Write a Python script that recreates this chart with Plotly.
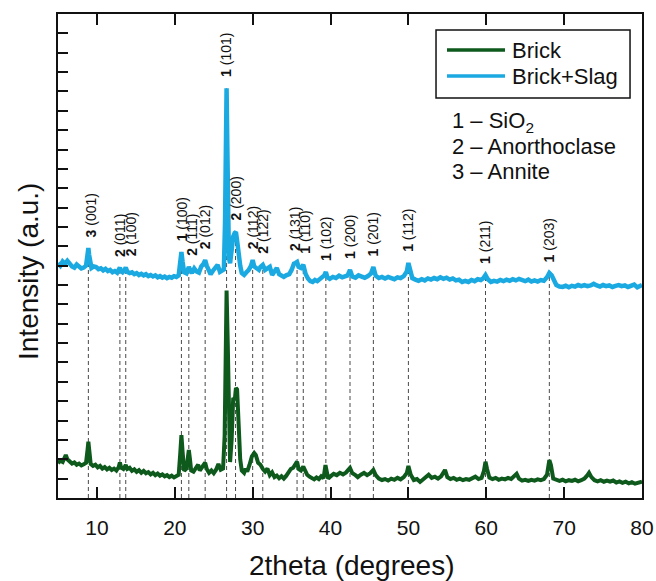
import numpy as np
import plotly.graph_objects as go

# XRD pattern of the plain brick (2theta in degrees, intensity in a.u.)
two_theta_brick = [
    5.0, 5.3, 5.6, 5.8, 6.0, 6.2, 6.5, 6.8, 7.1, 7.4, 7.7, 8.0, 8.3, 8.6, 8.8, 8.9, 9.0, 9.2, 9.5, 9.8,
    10.1, 10.4, 10.7, 11.0, 11.3, 11.6, 11.9, 12.2, 12.5, 12.8, 12.95, 13.1, 13.4, 13.7, 13.9, 14.2, 14.5,
    14.8, 15.1, 15.4, 15.7, 16.0, 16.3, 16.6, 16.9, 17.2, 17.5, 17.8, 18.1, 18.4, 18.7, 19.0, 19.3, 19.6,
    19.9, 20.2, 20.5, 20.7, 20.85, 21.0, 21.2, 21.5, 21.8, 21.95, 22.1, 22.4, 22.7, 23.0, 23.2, 23.5, 23.9,
    24.1, 24.4, 24.7, 25.0, 25.3, 25.6, 25.9, 26.2, 26.4, 26.55, 26.65, 26.8, 26.95, 27.1, 27.3, 27.5,
    27.7, 27.85, 28.0, 28.2, 28.4, 28.6, 28.9, 29.1, 29.3, 29.6, 29.9, 30.2, 30.4, 30.7, 31.0, 31.3, 31.6,
    31.9, 32.2, 32.5, 32.8, 33.1, 33.4, 33.7, 34.0, 34.3, 34.6, 34.9, 35.2, 35.5, 35.7, 35.9, 36.2, 36.5,
    36.7, 37.0, 37.3, 37.6, 37.9, 38.2, 38.5, 38.8, 39.1, 39.35, 39.5, 39.7, 40.0, 40.4, 40.8, 41.2, 41.6,
    42.0, 42.5, 42.8, 43.2, 43.5, 43.9, 44.3, 44.7, 45.1, 45.5, 45.8, 46.2, 46.6, 47.0, 47.4, 47.8, 48.2,
    48.6, 49.0, 49.4, 49.8, 50.0, 50.3, 50.7, 51.1, 51.5, 51.9, 52.3, 52.6, 53.0, 53.4, 53.8, 54.2, 54.7,
    55.0, 55.4, 55.8, 56.2, 56.6, 57.0, 57.4, 57.8, 58.2, 58.6, 59.0, 59.4, 59.7, 59.9, 60.1, 60.4, 60.8,
    61.2, 61.6, 62.0, 62.4, 62.8, 63.2, 63.6, 63.9, 64.2, 64.6, 65.0, 65.4, 65.8, 66.2, 66.6, 67.0, 67.4,
    67.8, 68.1, 68.3, 68.6, 69.0, 69.4, 69.8, 70.2, 70.6, 71.0, 71.4, 71.8, 72.2, 72.6, 73.0, 73.2, 73.5,
    73.9, 74.3, 74.7, 75.1, 75.5, 75.9, 76.3, 76.7, 77.1, 77.5, 77.9, 78.3, 78.7, 79.1, 79.5, 80.0,
]
intensity_brick = [
    180, 192, 186, 205, 222, 200, 188, 178, 184, 172, 178, 168, 174, 182, 250, 291, 252, 176, 166, 172,
    158, 166, 152, 160, 148, 156, 145, 152, 142, 160, 184, 158, 150, 170, 150, 156, 140,
    148, 135, 144, 130, 140, 128, 134, 122, 130, 118, 126, 115, 122, 112, 118, 108, 115,
    106, 112, 120, 230, 325, 240, 140, 152, 248, 200, 142, 136, 152, 172, 142, 158, 182,
    150, 130, 142, 128, 146, 176, 146, 152, 320, 900, 1071, 800, 320, 186, 300, 517,
    505, 568, 560, 350, 200, 142, 130, 152, 136, 172, 215, 232, 222, 182, 172, 150, 136,
    152, 118, 132, 108, 116, 102, 112, 100, 114, 132, 150, 156, 176, 188, 150, 142, 162,
    140, 120, 110, 100, 96, 106, 98, 112, 102, 170, 130, 100, 112, 125, 118, 130, 122,
    132, 155, 128, 118, 108, 120, 130, 118, 128, 145, 118, 100, 93, 98, 90, 100, 94,
    104, 96, 108, 130, 165, 120, 93, 98, 83, 96, 112, 120, 104, 110, 100, 112, 145,
    108, 98, 104, 94, 100, 92, 98, 94, 102, 110, 98, 104, 140, 187, 150, 105, 98,
    104, 94, 100, 96, 104, 98, 112, 125, 100, 90, 94, 88, 94, 90, 96, 92, 98,
    120, 196, 170, 100, 92, 88, 94, 86, 92, 88, 94, 86, 92, 100, 118, 130, 108,
    92, 86, 92, 84, 90, 84, 90, 80, 86, 78, 84, 76, 82, 74, 80, 85,
]

# XRD pattern of the brick with slag
two_theta_slag = [
    5.0, 5.3, 5.6, 5.9, 6.2, 6.5, 6.8, 7.1, 7.4, 7.7, 8.0, 8.3, 8.6, 8.8, 8.9, 9.0, 9.3, 9.6, 9.9, 10.2,
    10.5, 10.8, 11.1, 11.4, 11.7, 12.0, 12.3, 12.6, 12.8, 12.95, 13.1, 13.3, 13.5, 13.7, 13.9, 14.2, 14.5,
    14.8, 15.1, 15.4, 15.7, 16.0, 16.3, 16.6, 16.9, 17.2, 17.5, 17.8, 18.1, 18.4, 18.7, 19.0, 19.3, 19.6,
    19.9, 20.2, 20.5, 20.7, 20.85, 21.0, 21.2, 21.5, 21.8, 22.0, 22.2, 22.5, 22.8, 23.1, 23.4, 23.7, 23.9,
    24.1, 24.3, 24.6, 24.9, 25.2, 25.5, 25.8, 26.1, 26.3, 26.45, 26.55, 26.65, 26.75, 26.85, 26.95, 27.1,
    27.3, 27.5, 27.7, 27.85, 28.0, 28.2, 28.4, 28.6, 28.9, 29.2, 29.5, 29.8, 30.0, 30.2, 30.5, 30.8, 31.0,
    31.3, 31.6, 31.9, 32.2, 32.5, 32.8, 33.1, 33.4, 33.7, 34.0, 34.3, 34.7, 35.0, 35.3, 35.5, 35.7, 35.9,
    36.2, 36.5, 36.8, 37.1, 37.4, 37.7, 38.0, 38.3, 38.6, 38.9, 39.2, 39.4, 39.6, 39.9, 40.3, 40.7, 41.1,
    41.5, 41.9, 42.2, 42.5, 42.8, 43.2, 43.6, 44.0, 44.4, 44.8, 45.2, 45.5, 45.8, 46.2, 46.6, 47.0, 47.4,
    47.8, 48.2, 48.6, 49.0, 49.4, 49.8, 50.0, 50.2, 50.5, 50.9, 51.3, 51.7, 52.1, 52.5, 52.9, 53.3, 53.7,
    54.1, 54.5, 54.9, 55.3, 55.7, 56.1, 56.5, 56.9, 57.3, 57.7, 58.1, 58.5, 58.9, 59.3, 59.6, 59.9, 60.2,
    60.6, 61.0, 61.4, 61.8, 62.2, 62.6, 63.0, 63.4, 63.8, 64.2, 64.6, 65.0, 65.4, 65.8, 66.2, 66.6, 67.0,
    67.4, 67.8, 68.1, 68.4, 68.7, 69.0, 69.4, 69.8, 70.2, 70.6, 71.0, 71.4, 71.8, 72.2, 72.6, 73.0, 73.4,
    73.8, 74.2, 74.6, 75.0, 75.4, 75.8, 76.2, 76.6, 77.0, 77.4, 77.8, 78.2, 78.6, 79.0, 79.4, 79.8, 80.0,
]
intensity_slag = [
    1214, 1200, 1222, 1210, 1225, 1205, 1196, 1190, 1206, 1196, 1186, 1190, 1200, 1260, 1291, 1255, 1188, 1196, 1193, 1182,
    1186, 1176, 1184, 1172, 1178, 1166, 1172, 1164, 1176, 1190, 1172, 1166, 1174, 1190, 1168, 1162, 1166,
    1156, 1162, 1152, 1158, 1150, 1156, 1146, 1152, 1144, 1150, 1140, 1146, 1138, 1144, 1136, 1142, 1138,
    1146, 1142, 1150, 1230, 1271, 1220, 1166, 1160, 1193, 1175, 1162, 1186, 1170, 1164, 1196, 1210, 1229,
    1200, 1176, 1156, 1174, 1186, 1204, 1168, 1176, 1180, 1420, 1900, 2116, 1800, 1500, 1240, 1212,
    1290, 1350, 1369, 1374, 1330, 1250, 1200, 1162, 1152, 1166, 1178, 1200, 1229, 1196, 1186, 1178, 1194,
    1204, 1178, 1186, 1194, 1152, 1168, 1188, 1156, 1148, 1142, 1150, 1156, 1178, 1210, 1214, 1219, 1194,
    1188, 1204, 1157, 1134, 1120, 1116, 1126, 1120, 1132, 1140, 1150, 1167, 1140, 1132, 1142, 1136, 1148,
    1140, 1146, 1150, 1178, 1144, 1138, 1150, 1144, 1138, 1146, 1160, 1193, 1148, 1136, 1142, 1134, 1142,
    1136, 1130, 1140, 1136, 1146, 1170, 1214, 1180, 1136, 1128, 1122, 1130, 1124, 1134, 1128, 1136, 1130,
    1140, 1132, 1138, 1128, 1134, 1124, 1128, 1116, 1122, 1116, 1126, 1120, 1130, 1126, 1134, 1152, 1130,
    1116, 1122, 1118, 1126, 1120, 1128, 1122, 1130, 1124, 1132, 1126, 1120, 1128, 1118, 1124, 1118, 1126,
    1122, 1140, 1162, 1150, 1118, 1100, 1092, 1090, 1096, 1088, 1096, 1092, 1100, 1094, 1100, 1094, 1098,
    1106, 1098, 1092, 1100, 1094, 1098, 1090, 1096, 1100, 1094, 1098, 1090, 1096, 1102, 1088, 1096, 1100,
]

# Indexed reflections: position, phase number, Miller indices
peak_positions = [8.9, 12.95, 13.7, 20.85, 21.8, 23.9, 26.65, 27.8, 30.0, 31.3,
                  35.7, 36.5, 39.4, 42.5, 45.5, 50.0, 59.9, 68.1]
peak_phases = [3, 2, 2, 1, 2, 2, 1, 2, 2, 2, 2, 1, 1, 1, 1, 1, 1, 1]
peak_hkl = ["(001)", "(011)", "(100)", "(100)", "(111)", "(012)", "(101)", "(200)", "(112)",
            "(122)", "(131)", "(110)", "(102)", "(200)", "(201)", "(112)", "(211)", "(203)"]

phase_key = ["1 \u2013 SiO<sub>2</sub>", "2 \u2013 Anorthoclase", "3 \u2013 Annite"]
series_names = ["Brick", "Brick+Slag"]

FONT = "Arial, Liberation Sans, sans-serif"
INK = "#111111"
GREEN = "#0d5a1c"
BLUE = "#1ba9e1"
series_colors = [GREEN, BLUE]
# small horizontal nudges (px) for labels of closely spaced reflections
label_nudge = {8.9: 3, 13.7: 5, 20.85: 1, 21.8: 3, 35.7: -2, 36.5: 2}

fig = go.Figure()
fig.add_trace(go.Scatter(x=two_theta_brick, y=intensity_brick, mode="lines", name=series_names[0],
                         line=dict(color=GREEN, width=4), showlegend=False))
fig.add_trace(go.Scatter(x=two_theta_slag, y=intensity_slag, mode="lines", name=series_names[1],
                         line=dict(color=BLUE, width=4.5), showlegend=False))

xs = np.array(two_theta_slag)
ys = np.array(intensity_slag)
annotations = []
shapes = []

# dashed guide lines and rotated reflection labels
for pos, ph, hkl in zip(peak_positions, peak_phases, peak_hkl):
    top = ys[np.abs(xs - pos) <= 0.3].max()
    shapes.append(dict(type="line", xref="x", yref="y", x0=pos, x1=pos, y0=0, y1=top,
                       line=dict(color="#4a4a4a", width=1, dash="4px,3px"), layer="below"))
    annotations.append(dict(x=pos, y=top, xref="x", yref="y", text=f"<b>{ph}</b> {hkl}",
                            textangle=-90, showarrow=False, xanchor="center", yanchor="bottom",
                            yshift=9, xshift=label_nudge.get(pos, 0),
                            font=dict(family=FONT, size=14, color=INK)))

# framed key for the two patterns (compact row spacing)
shapes.append(dict(type="rect", xref="paper", yref="paper", x0=0.6473, x1=0.9795,
                   y0=0.8264, y1=0.9669, line=dict(color=INK, width=1.5),
                   fillcolor="white", layer="above"))
for i, (name, col) in enumerate(zip(series_names, series_colors)):
    yk = 0.9256 - i * 0.0537
    shapes.append(dict(type="line", xref="paper", yref="paper", x0=0.6661, x1=0.7654,
                       y0=yk, y1=yk, line=dict(color=col, width=3.5), layer="above"))
    annotations.append(dict(x=0.7745, y=yk, xref="paper", yref="paper", text=name,
                            showarrow=False, xanchor="left", yanchor="middle",
                            font=dict(family=FONT, size=22, color=INK)))

# phase numbering key
for i, txt in enumerate(phase_key):
    annotations.append(dict(x=0.671, y=0.7775 - i * 0.0517, xref="paper", yref="paper", text=txt,
                            showarrow=False, xanchor="left", yanchor="middle",
                            font=dict(family=FONT, size=22, color=INK)))

# axis titles
annotations.append(dict(x=0.502, y=-0.14, xref="paper", yref="paper", text="2theta (degrees)",
                        showarrow=False, xanchor="center", yanchor="middle",
                        font=dict(family=FONT, size=28, color=INK)))
annotations.append(dict(x=-0.0514, y=0.469, xref="paper", yref="paper", text="Intensity (a.u.)",
                        textangle=-90, showarrow=False, xanchor="center", yanchor="middle",
                        font=dict(family=FONT, size=28, color=INK)))

fig.update_layout(
    width=656, height=581,
    margin=dict(l=58, r=14, t=14, b=83, autoexpand=False),
    paper_bgcolor="white", plot_bgcolor="white",
    font=dict(family=FONT, color=INK),
    showlegend=False,
    shapes=shapes,
    annotations=annotations,
    xaxis=dict(range=[5, 80], dtick=10, tick0=0, ticks="inside", ticklen=11, tickwidth=2,
               tickcolor=INK, showline=True, linecolor=INK, linewidth=2,
               mirror="ticks", showgrid=False, zeroline=False, automargin=False,
               tickfont=dict(family=FONT, size=21, color=INK), ticklabelstandoff=10),
    yaxis=dict(range=[0, 2500], dtick=100, tick0=0, ticks="inside", ticklen=10, tickwidth=2,
               tickcolor=INK, showline=True, linecolor=INK, linewidth=2,
               mirror=True, showgrid=False, zeroline=False, showticklabels=False,
               automargin=False),
    yaxis2=dict(range=[0, 2500], overlaying="y", side="right", anchor="x",
                dtick=500, tick0=0, ticks="inside", ticklen=11, tickwidth=2, tickcolor=INK,
                minor=dict(dtick=100, ticks="inside", ticklen=7, tickwidth=2, tickcolor=INK),
                showline=False, showgrid=False, zeroline=False, showticklabels=False,
                automargin=False),
)

fig.write_html("out.html")
